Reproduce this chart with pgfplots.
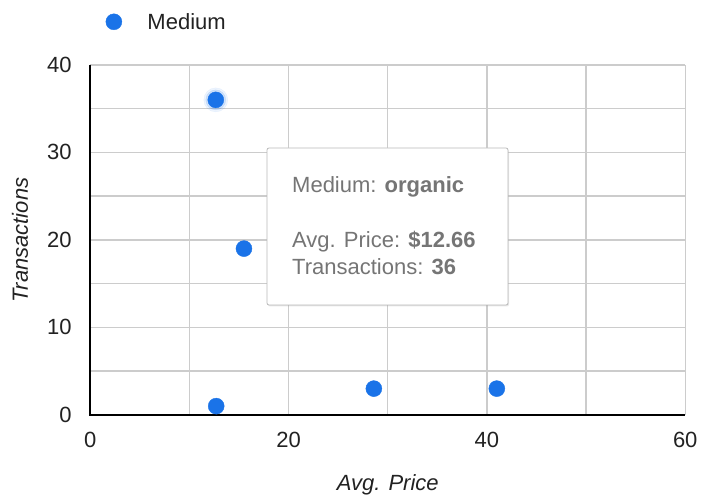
\documentclass[border=0pt]{standalone}
\usepackage{pgfplots}
\pgfplotsset{compat=1.18}
\usepackage{fontspec}
\setmainfont{Liberation Sans}
\usetikzlibrary{shadows}
\definecolor{dotblue}{RGB}{26,115,232}
\definecolor{gridgray}{RGB}{204,204,204}
\definecolor{tipgray}{RGB}{117,117,117}
\definecolor{textdark}{RGB}{34,34,34}
\begin{document}
\begin{tikzpicture}[x=1pt,y=1pt]
\path[use as bounding box] (0,0) rectangle (701,498);
\begin{axis}[
  at={(91,95)}, anchor=south west, scale only axis,
  width=595pt, height=350pt,
  xmin=0, xmax=60, ymin=0, ymax=40,
  xtick={0,20,40,60}, minor xtick={10,30,50},
  ytick={0,10,20,30,40}, minor ytick={5,15,25,35},
  grid=both,
  major grid style={gridgray, line width=1.3pt},
  minor grid style={gridgray, line width=1.3pt},
  axis line style={draw=none},
  major tick length=0pt, minor tick length=0pt,
  /pgf/number format/assume math mode=true,
  ticklabel style={font=\fontsize{22}{26}\selectfont, text=textdark},
  xticklabel style={yshift=-14pt},
  yticklabel style={xshift=-15pt},
  xlabel={\itshape Avg. Price},
  ylabel={\itshape Transactions},
  label style={font=\fontsize{22}{26}\selectfont, text=textdark},
  xlabel style={at={(axis description cs:0.5,-0.2)}, anchor=center},
  ylabel style={at={(axis description cs:-0.118,0.5)}, anchor=center},
  legend style={draw=none, fill=none, at={(axis description cs:0.02,1.123)}, anchor=west,
    font=\fontsize{22}{26}\selectfont, text=textdark, nodes={inner xsep=8pt}},
  legend image code/.code={%
    \path[draw=none] (0cm,0cm) -- (1.2cm,0cm);
    \draw[mark repeat=2, mark phase=2, #1] plot coordinates {(0cm,0cm) (0.3cm,0cm) (0.6cm,0cm)};},
  legend cell align=left,
  clip=false,
]
% soft hover halo around the highlighted point
\addplot[only marks, mark=*, mark size=12pt, color=dotblue, opacity=0.08, forget plot]
  coordinates {(12.66,36)};
\addplot[only marks, mark=*, mark size=10pt, color=dotblue, opacity=0.15, forget plot]
  coordinates {(12.66,36)};
\addplot[only marks, mark=*, mark size=8pt, color=dotblue]
  coordinates {(12.66,36) (15.5,19) (12.7,1) (28.6,3) (41.0,3)};
\addlegendentry{Medium}
% left and bottom axis lines
\draw[black, line width=1.6pt] (axis cs:0,40) -- (axis cs:0,0) -- (axis cs:60,0);
\end{axis}
% tooltip
\draw[gray!55, fill=white, rounded corners=2pt, line width=0.8pt,
  drop shadow={opacity=0.18, shadow xshift=1pt, shadow yshift=-1.5pt}]
  (267,193) rectangle (508,350);
\begin{scope}[every node/.style={anchor=base west, inner sep=0pt, text=tipgray,
    font=\fontsize{22}{26}\selectfont}]
\node at (292,305) {Medium: \textbf{organic}};
\node at (292,250) {Avg. Price: \textbf{\$12.66}};
\node at (292,223) {Transactions: \textbf{36}};
\end{scope}
\end{tikzpicture}
\end{document}
